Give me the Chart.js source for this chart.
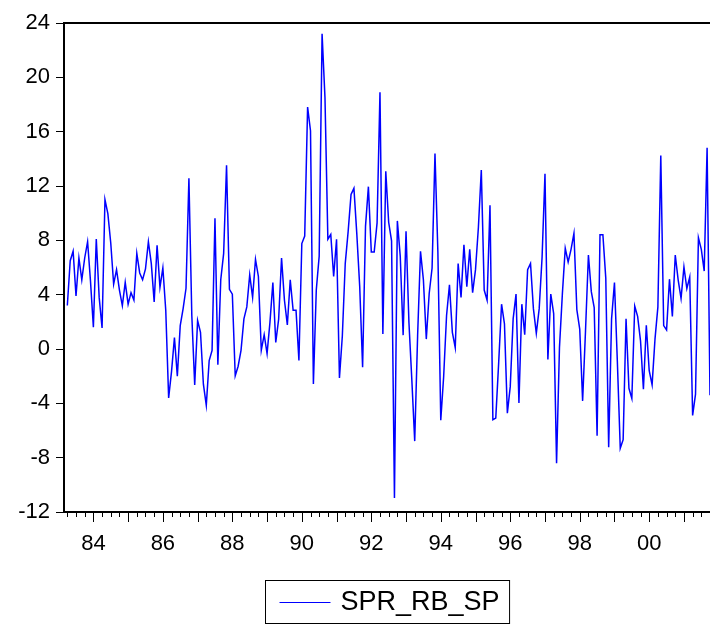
<!DOCTYPE html>
<html>
<head>
<meta charset="utf-8">
<script src="https://cdn.jsdelivr.net/npm/chart.js@4"></script>
<style>
  html, body { margin: 0; padding: 0; background: #fff; overflow: hidden; }
</style>
</head>
<body>
<canvas id="chart" width="710" height="628"></canvas>
<script>
// monthly series, first observation 1983:04
const seriesName = "SPR_RB_SP";
const firstYear = 1983;
const firstMonth = 4;

const sprRbSp = [
  3.2, 6.5, 7.2, 3.9, 6.7, 5.1, 6.7, 7.9, 5.0, 1.6,
  8.1, 3.8, 1.55, 11.0, 9.96, 7.8, 4.77, 5.84, 4.34, 3.2,
  4.9, 3.3, 4.15, 3.6, 7.04, 5.6, 5.1, 5.9, 7.9, 6.3,
  3.47, 7.64, 4.54, 5.97, 2.85, -3.6, -1.65, 0.85, -2.0, 1.72,
  2.97, 4.47, 12.57, 2.47, -2.64, 2.1, 1.23, -2.59, -4.14, -0.85,
  -0.1, 9.63, -1.15, 5.1, 7.04, 13.53, 4.39, 4.04, -1.97, -1.27,
  -0.1, 2.22, 3.1, 5.46, 3.8, 6.59, 5.34, -0.1, 1.05, -0.34,
  1.98, 4.9, 0.48, 2.2, 6.69, 3.59, 1.77, 5.09, 2.85, 2.85,
  -0.85, 7.76, 8.31, 17.81, 16.07, -2.57, 4.34, 6.84, 23.21, 18.5,
  8.08, 8.43, 5.34, 8.08, -2.14, 0.97, 6.29, 8.64, 11.38, 11.83,
  8.46, 4.59, -1.35, 9.03, 11.95, 7.14, 7.14, 9.28, 18.9, 1.1,
  13.08, 9.33, 7.96, -10.97, 9.43, 6.84, 1.02, 8.66, 1.97, -2.27,
  -6.78, 0.97, 7.19, 5.09, 0.73, 4.09, 5.96, 14.4, 7.14, -5.24,
  -2.02, 2.47, 4.72, 1.23, 0.1, 6.29, 3.8, 7.67, 4.59, 7.34,
  4.15, 5.84, 8.96, 13.18, 4.34, 3.59, 10.58, -5.21, -5.09, -1.02,
  3.3, 1.85, -4.72, -2.77, 2.22, 4.04, -3.97, 3.3, 1.05, 5.84,
  6.29, 2.97, 1.15, 2.97, 6.77, 12.9, -0.77, 4.04, 2.6, -8.41,
  0.1, 4.04, 7.41, 6.41, 7.34, 8.51, 2.9, 1.47, -3.82, 1.35,
  6.92, 4.22, 3.05, -6.38, 8.41, 8.41, 5.22, -7.23, 2.22, 4.9,
  -0.94, -7.31, -6.68, 2.22, -2.89, -3.64, 3.15, 2.4, 0.6, -2.96,
  1.75, -1.6, -2.64, 0.73, 3.1, 14.25, 1.72, 1.4, 5.14, 2.4,
  6.92, 5.09, 3.72, 6.04, 4.45, 5.29, -4.89, -3.32, 8.19, 7.34,
  5.74, 14.82, -3.4
];

const yTicks = [-12, -8, -4, 0, 4, 8, 12, 16, 20, 24];
const labelYears = [1984, 1986, 1988, 1990, 1992, 1994, 1996, 1998, 2000];
const xTickLabels = ["84", "86", "88", "90", "92", "94", "96", "98", "00"];

const FONT = '"Liberation Sans", Arial, sans-serif';

const monthIndex = (year, month) => (year - firstYear) * 12 + (month - firstMonth);
const isJanuary = (i) => (firstMonth - 1 + i) % 12 === 0;

const points = sprRbSp.map((v, i) => ({ x: i, y: v }));

// quarterly minor ticks along the date axis
const quarterTicks = [];
for (let i = 0; i < sprRbSp.length; i += 3) quarterTicks.push(i);

const labelAt = {};
labelYears.forEach((y, k) => { labelAt[monthIndex(y, 1)] = xTickLabels[k]; });

// top frame line
const topFrame = {
  id: "topFrame",
  afterDraw(chart) {
    const { ctx, chartArea } = chart;
    ctx.save();
    ctx.strokeStyle = "#000";
    ctx.lineWidth = 2;
    ctx.beginPath();
    ctx.moveTo(chartArea.left - 1, chartArea.top);
    ctx.lineTo(chart.width, chartArea.top);
    ctx.stroke();
    ctx.restore();
  }
};

// eviews style date ticks: long at years, short at quarters
const dateTicks = {
  id: "dateTicks",
  afterDraw(chart) {
    const { ctx, chartArea } = chart;
    const xs = chart.scales.x;
    ctx.save();
    ctx.strokeStyle = "#000";
    ctx.lineWidth = 1;
    xs.ticks.forEach((t) => {
      const px = Math.round(xs.getPixelForValue(t.value)) + 0.5;
      const len = isJanuary(t.value) ? 10 : 5;
      ctx.beginPath();
      ctx.moveTo(px, chartArea.bottom);
      ctx.lineTo(px, chartArea.bottom + len);
      ctx.stroke();
    });
    ctx.restore();
  }
};

// boxed legend centred under the plot
const legendBox = {
  id: "legendBox",
  afterDraw(chart) {
    const { ctx, chartArea } = chart;
    const ds = chart.data.datasets[0];
    ctx.save();
    ctx.font = "27px " + FONT;
    const textW = ctx.measureText(ds.label).width;
    const lineW = 51, gap = 10, padL = 14, padR = 10, boxH = 43;
    const boxW = padL + lineW + gap + textW + padR;
    const cx = (chartArea.left + chartArea.right) / 2;
    const left = Math.round(cx - boxW / 2) + 0.5;
    const top = chart.height - boxH - 5 + 0.5;
    ctx.strokeStyle = "#000";
    ctx.lineWidth = 1;
    ctx.strokeRect(left, top, boxW, boxH);
    const midY = top + boxH / 2;
    ctx.strokeStyle = ds.borderColor;
    ctx.beginPath();
    ctx.moveTo(left + padL, Math.round(midY) + 0.5);
    ctx.lineTo(left + padL + lineW, Math.round(midY) + 0.5);
    ctx.stroke();
    ctx.fillStyle = "#000";
    ctx.textBaseline = "middle";
    ctx.fillText(ds.label, left + padL + lineW + gap, midY + 1);
    ctx.restore();
  }
};

new Chart(document.getElementById("chart"), {
  type: "line",
  data: {
    datasets: [{
      label: seriesName,
      data: points,
      borderColor: "#0000ff",
      borderWidth: 1.5,
      pointRadius: 0,
      tension: 0,
      fill: false
    }]
  },
  options: {
    responsive: false,
    animation: false,
    layout: { padding: { top: 23, left: 0, right: 0, bottom: 70 } },
    plugins: {
      legend: { display: false },
      tooltip: { enabled: false }
    },
    scales: {
      x: {
        type: "linear",
        min: -1.15,
        max: sprRbSp.length - 1,
        afterBuildTicks: (scale) => {
          scale.ticks = quarterTicks.map((v) => ({ value: v }));
        },
        afterFit: (scale) => {
          scale.height = 46;
          scale.paddingLeft = 0;
          scale.paddingRight = 0;
        },
        grid: { drawOnChartArea: false, drawTicks: false },
        border: { color: "#000", width: 2 },
        ticks: {
          autoSkip: false,
          maxRotation: 0,
          minRotation: 0,
          padding: 19,
          color: "#000",
          font: { family: FONT, size: 22 },
          callback: (v) => labelAt[v] || ""
        }
      },
      y: {
        min: yTicks[0],
        max: yTicks[yTicks.length - 1],
        afterBuildTicks: (scale) => {
          scale.ticks = yTicks.map((v) => ({ value: v }));
        },
        afterFit: (scale) => { scale.width = 64; },
        grid: { drawOnChartArea: false, drawTicks: true, tickLength: 8, tickColor: "#000" },
        border: { color: "#000", width: 2 },
        ticks: {
          padding: 6,
          color: "#000",
          font: { family: FONT, size: 22 }
        }
      }
    }
  },
  plugins: [topFrame, dateTicks, legendBox]
});
</script>
</body>
</html>
